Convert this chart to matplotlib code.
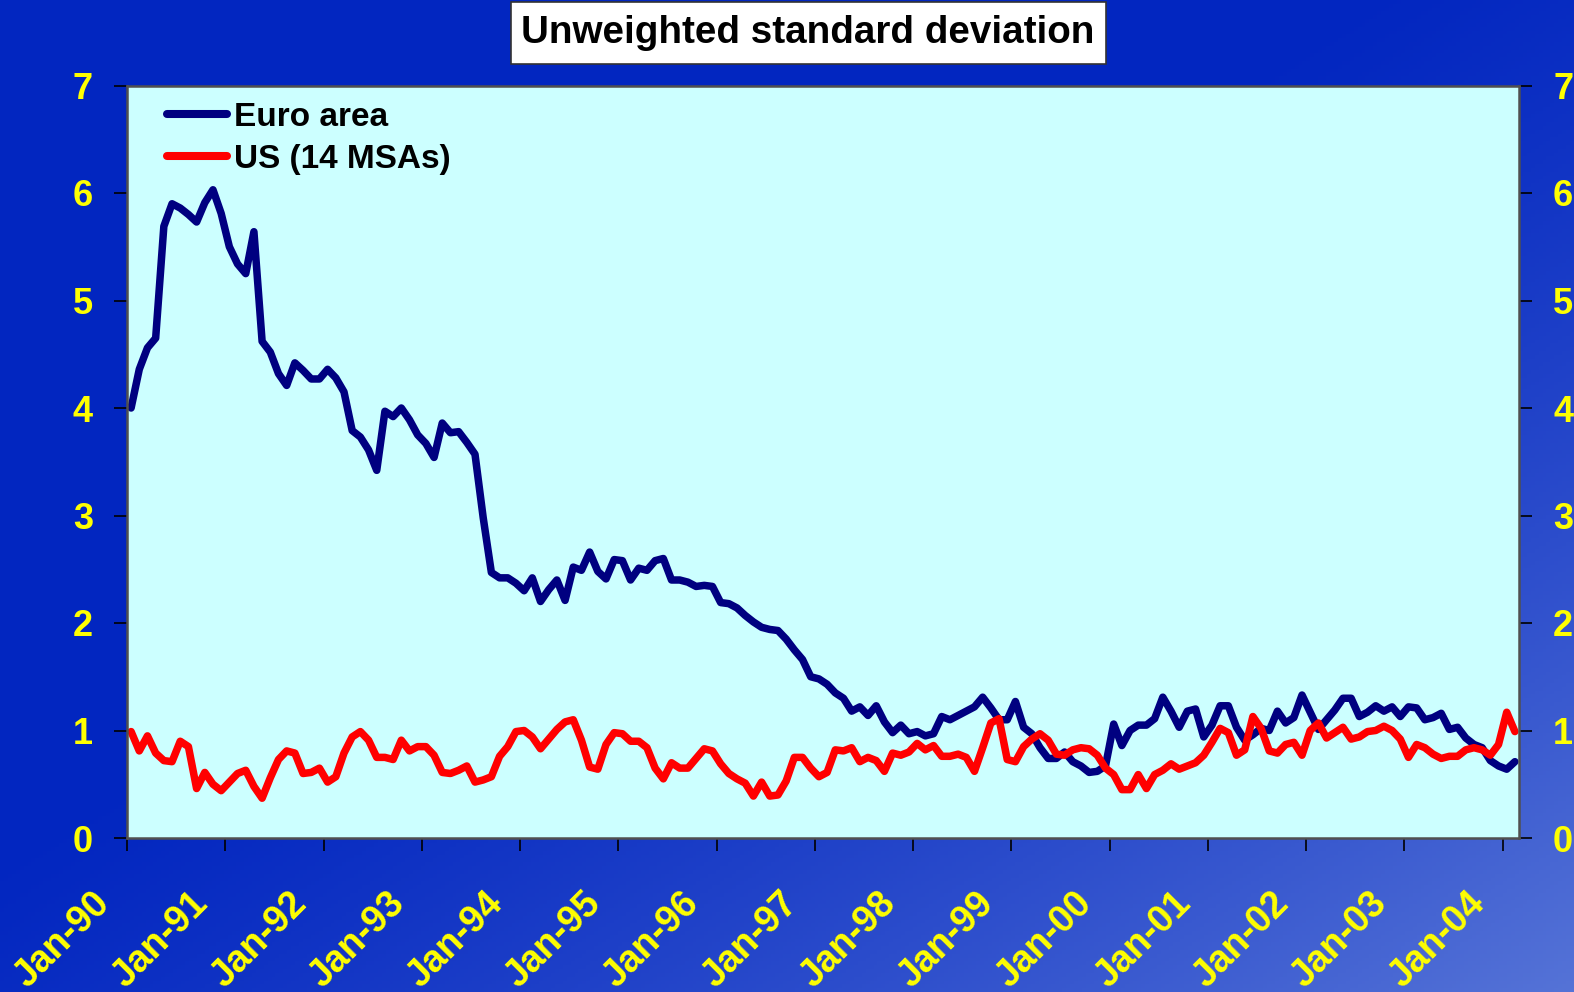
import numpy as np
import matplotlib
matplotlib.use("Agg")
import matplotlib.pyplot as plt
from matplotlib.patches import Rectangle
from matplotlib.transforms import blended_transform_factory, ScaledTranslation

# monthly cross-region dispersion, Jan-90 .. Feb-04
euro_area = [
    4.00, 4.36, 4.56, 4.65, 5.69, 5.90, 5.86, 5.80, 5.73, 5.91,
    6.03, 5.81, 5.50, 5.34, 5.25, 5.64, 4.62, 4.52, 4.32, 4.21,
    4.42, 4.35, 4.27, 4.27, 4.36, 4.28, 4.15, 3.79, 3.73, 3.61,
    3.42, 3.97, 3.92, 4.00, 3.89, 3.75, 3.67, 3.54, 3.86, 3.77,
    3.78, 3.68, 3.57, 2.98, 2.47, 2.42, 2.42, 2.37, 2.30, 2.42,
    2.20, 2.31, 2.40, 2.21, 2.52, 2.49, 2.66, 2.48, 2.41, 2.59,
    2.58, 2.40, 2.51, 2.49, 2.58, 2.60, 2.40, 2.40, 2.38, 2.34,
    2.35, 2.34, 2.19, 2.18, 2.14, 2.07, 2.01, 1.96, 1.94, 1.93,
    1.85, 1.75, 1.66, 1.50, 1.48, 1.43, 1.35, 1.30, 1.18, 1.22,
    1.14, 1.23, 1.08, 0.98, 1.05, 0.97, 0.99, 0.95, 0.97, 1.13,
    1.10, 1.14, 1.18, 1.22, 1.31, 1.21, 1.10, 1.10, 1.27, 1.03,
    0.97, 0.84, 0.74, 0.74, 0.80, 0.71, 0.67, 0.61, 0.62, 0.67,
    1.06, 0.86, 1.00, 1.05, 1.05, 1.11, 1.31, 1.18, 1.03, 1.18,
    1.20, 0.94, 1.05, 1.23, 1.23, 1.03, 0.91, 0.96, 1.02, 1.00,
    1.18, 1.07, 1.12, 1.33, 1.17, 1.01, 1.10, 1.19, 1.30, 1.30,
    1.13, 1.17, 1.23, 1.18, 1.22, 1.13, 1.22, 1.21, 1.10, 1.12,
    1.16, 1.01, 1.03, 0.93, 0.87, 0.84, 0.72, 0.67, 0.64, 0.71,
]

us_msas = [
    0.99, 0.81, 0.95, 0.79, 0.72, 0.71, 0.90, 0.85, 0.46, 0.61,
    0.50, 0.44, 0.52, 0.60, 0.63, 0.48, 0.37, 0.56, 0.73, 0.81,
    0.79, 0.60, 0.61, 0.65, 0.52, 0.57, 0.79, 0.94, 0.99, 0.91,
    0.75, 0.75, 0.73, 0.91, 0.81, 0.85, 0.85, 0.77, 0.61, 0.60,
    0.63, 0.67, 0.52, 0.54, 0.57, 0.76, 0.85, 0.99, 1.00, 0.94,
    0.83, 0.92, 1.01, 1.08, 1.10, 0.91, 0.66, 0.64, 0.87, 0.98,
    0.97, 0.90, 0.90, 0.84, 0.65, 0.55, 0.70, 0.65, 0.65, 0.74,
    0.83, 0.81, 0.69, 0.60, 0.55, 0.51, 0.39, 0.52, 0.39, 0.40,
    0.53, 0.75, 0.75, 0.65, 0.57, 0.61, 0.82, 0.81, 0.84, 0.71,
    0.75, 0.72, 0.62, 0.79, 0.77, 0.80, 0.88, 0.82, 0.86, 0.76,
    0.76, 0.78, 0.75, 0.62, 0.84, 1.07, 1.11, 0.73, 0.71, 0.85,
    0.92, 0.97, 0.91, 0.78, 0.77, 0.82, 0.84, 0.83, 0.77, 0.65,
    0.59, 0.45, 0.45, 0.59, 0.46, 0.59, 0.63, 0.69, 0.64, 0.67,
    0.70, 0.77, 0.89, 1.02, 0.98, 0.77, 0.82, 1.13, 1.02, 0.81,
    0.79, 0.87, 0.89, 0.77, 1.00, 1.07, 0.93, 0.98, 1.03, 0.92,
    0.94, 0.99, 1.00, 1.04, 1.00, 0.92, 0.75, 0.87, 0.84, 0.78,
    0.74, 0.76, 0.76, 0.82, 0.84, 0.82, 0.77, 0.87, 1.17, 0.99,
]

year_labels = ["Jan-90", "Jan-91", "Jan-92", "Jan-93", "Jan-94", "Jan-95",
               "Jan-96", "Jan-97", "Jan-98", "Jan-99", "Jan-00", "Jan-01",
               "Jan-02", "Jan-03", "Jan-04"]
y_ticks = [0, 1, 2, 3, 4, 5, 6, 7]

plt.rcParams["font.family"] = ["Liberation Sans", "DejaVu Sans"]
plt.rcParams["font.weight"] = "bold"

W, H = 1574, 992
fig = plt.figure(figsize=(W / 100, H / 100), dpi=100)

# slide background: deep blue, lighter toward the lower right
bg = fig.add_axes([0, 0, 1, 1], zorder=-10)
u = np.linspace(0, 1, 400)[None, :]
v = np.linspace(0, 1, 260)[:, None]
f = np.clip((u + v - 0.85) / 1.15, 0, 1) ** 1.3
base = np.array([2, 38, 192]) / 255
light = np.array([85, 115, 215]) / 255
img = base[None, None, :] + (light - base)[None, None, :] * f[:, :, None]
bg.imshow(img, aspect="auto", extent=[0, 1, 0, 1], origin="upper")
bg.set_axis_off()

ax = fig.add_axes([127 / W, 1 - 838 / H, (1519 - 127) / W, (838 - 85.5) / H])
ax.set_facecolor("#CCFFFF")

months = np.arange(len(euro_area))
ax.plot(months, euro_area, color="#000080", lw=5.4, solid_joinstyle="round",
        solid_capstyle="round", label="Euro area")
ax.plot(months, us_msas, color="#FF0000", lw=5.4, solid_joinstyle="round",
        solid_capstyle="round", label="US (14 MSAs)")

ax.set_xlim(-0.5, len(euro_area) - 0.5)
ax.set_ylim(0, 7)
ax.set_yticks(y_ticks)
tick_pos = [-0.5 + 12 * k for k in range(len(year_labels))]
ax.set_xticks(tick_pos)
ax.set_xticklabels([])

for side in ["left", "right", "top", "bottom"]:
    ax.spines[side].set_color("#505050")
    ax.spines[side].set_linewidth(1.8)

ax.tick_params(axis="y", which="both", direction="out", length=9.5, width=1.2,
               color="black", labelsize=26, labelcolor="#FFFF00", pad=15,
               left=True, right=True, labelleft=True, labelright=True)
ax.tick_params(axis="x", direction="out", length=9, width=1.2, color="black")

# rotated year labels under the category axis
trans = blended_transform_factory(ax.transData, ax.transAxes) + \
    ScaledTranslation(-10 / 100, -47 / 100, fig.dpi_scale_trans)
for x, lab in zip(tick_pos, year_labels):
    ax.text(x, 0, lab, transform=trans, rotation=45, ha="right", va="top",
            fontsize=27, fontweight="bold", color="#FFFF00", clip_on=False)

leg = ax.legend(loc="upper left", bbox_to_anchor=(0.029, 0.978), frameon=False,
                fontsize=24, handlelength=1.8, handletextpad=0.2,
                labelspacing=0.33, borderpad=0, borderaxespad=0)
for t in leg.get_texts():
    t.set_fontweight("bold")
for h in leg.get_lines():
    h.set_linewidth(5.8)

# boxed heading
fig.patches.append(Rectangle((511 / W, 1 - 64 / H), (1106 - 511) / W, 62 / H,
                             transform=fig.transFigure, facecolor="white",
                             edgecolor="#333333", linewidth=1.2, zorder=1))
fig.text(808 / W, 1 - 33 / H, "Unweighted standard deviation", ha="center",
         va="center", fontsize=27.8, fontweight="bold", color="black", zorder=2)

fig.savefig("out.png", dpi=100)
